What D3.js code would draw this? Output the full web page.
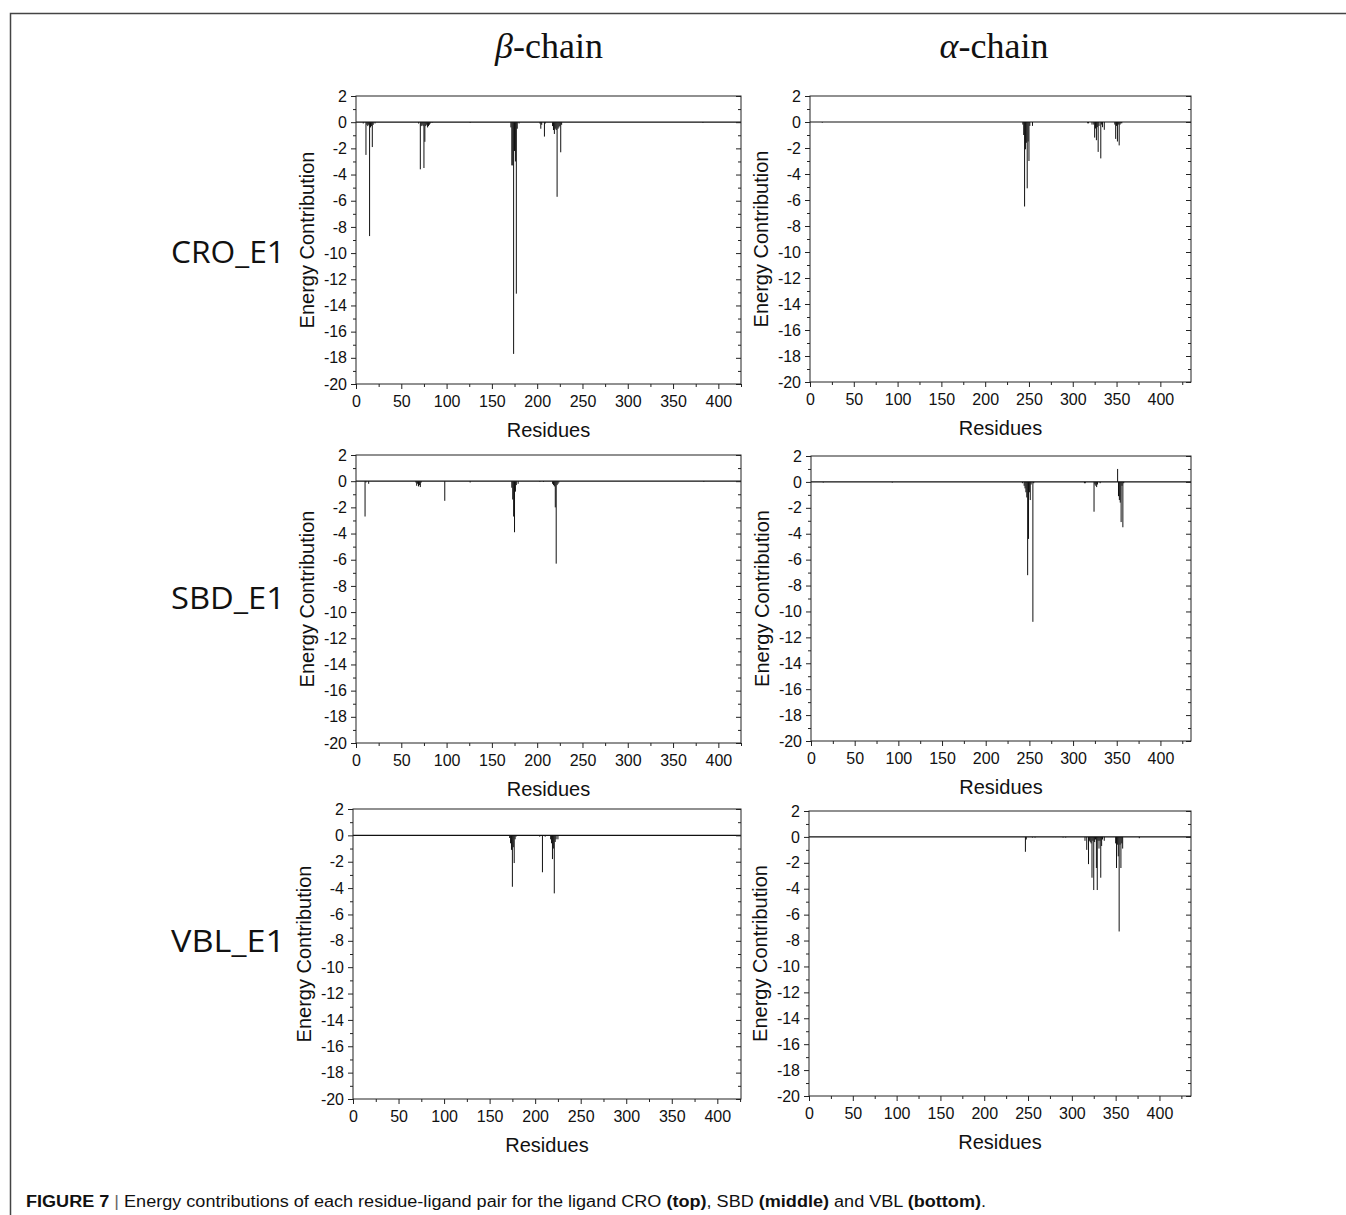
<!DOCTYPE html>
<html>
<head>
<meta charset="utf-8">
<script src="https://cdn.jsdelivr.net/npm/d3@7"></script>
<style>
  body { margin: 0; background: #fff; }
  svg text { font-family: "Liberation Sans", Arial, sans-serif; fill: #111; }
</style>
</head>
<body>
<div id="fig"></div>
<script>
// residue / energy pairs (only non-zero residues)
var croBeta = [[8,-0.1],[11,-2.5],[12,-0.2],[13,-0.3],[14,-0.2],[15,-8.7],[16,-0.4],[17,-0.3],[18,-1.9],[19,-0.2],[21,-0.1],
  [69,-0.1],[71,-3.6],[72,-0.3],[73,-0.2],[74,-0.3],[75,-3.5],[76,-1.5],[77,-0.3],[78,-0.2],[79,-0.4],[80,-0.3],[81,-0.2],[82,-0.1],
  [84,-0.05],[126,-0.05],
  [171,-0.4],[172,-3.3],[173,-3.3],[174,-17.7],[175,-2.2],[176,-3.0],[177,-13.1],[178,-0.5],[180,-0.1],
  [203,-0.1],[204,-0.5],[205,-0.2],[208,-1.1],[209,-0.1],
  [217,-0.3],[218,-0.6],[219,-0.9],[220,-0.5],[221,-0.6],[222,-5.7],[223,-0.5],[224,-0.4],[225,-0.3],[226,-2.3],[227,-0.2],
  [383,-0.05]];
var croAlpha = [[14,-0.05],
  [243,-0.2],[244,-1.0],[245,-6.5],[246,-2.1],[247,-1.6],[248,-5.1],[249,-1.5],[250,-3.0],[251,-0.3],[254,-0.3],
  [317,-0.1],[318,-0.1],[322,-0.2],[324,-0.2],[325,-1.2],[326,-0.5],[327,-1.4],[328,-0.4],[329,-2.3],[330,-0.3],[332,-2.8],[333,-0.2],[334,-0.4],[336,-0.6],
  [348,-0.2],[349,-1.3],[350,-0.3],[351,-1.5],[352,-0.2],[353,-1.8],[354,-0.2],[355,-0.1],[356,-0.1]];
var sbdBeta = [[10,-2.7],[11,-0.1],[14,-0.2],
  [66,-0.1],[67,-0.35],[68,-0.2],[69,-0.4],[70,-0.3],[71,-0.45],[72,-0.1],
  [98,-1.5],[126,-0.1],
  [172,-0.5],[173,-1.4],[174,-2.7],[175,-3.9],[176,-0.8],[177,-0.3],[179,-0.2],
  [203,-0.05],[207,-0.05],
  [217,-0.2],[218,-0.3],[219,-0.4],[220,-2.0],[221,-6.3],[222,-0.3],[223,-0.2],[224,-0.1],
  [384,-0.05]];
var sbdAlpha = [[14,-0.05],[93,-0.05],
  [242,-0.1],[244,-0.3],[245,-0.5],[246,-0.8],[247,-1.2],[248,-7.2],[249,-4.4],[250,-0.8],[251,-1.4],[252,-0.2],[254,-10.8],[255,-0.1],
  [313,-0.1],[314,-0.1],[324,-2.3],[325,-0.2],[326,-0.3],[327,-0.4],[328,-0.2],[331,-0.1],
  [351,1.0],[352,-1.1],[353,-1.4],[354,-1.6],[355,-3.1],[356,-0.3],[357,-3.5],[358,-0.1]];
var vblBeta = [[2,-0.05],
  [172,-0.2],[173,-0.6],[174,-1.1],[175,-3.9],[176,-0.9],[177,-2.1],[178,-0.3],[179,-0.1],
  [205,-0.1],[208,-2.8],[211,-0.1],
  [217,-0.3],[218,-0.6],[219,-1.8],[220,-1.0],[221,-4.4],[222,-0.5],[223,-0.3],[225,-0.3]];
var vblAlpha = [[247,-1.15],[248,-0.2],[255,-0.05],[258,-0.05],[290,-0.05],[293,-0.05],
  [315,-0.3],[317,-1.0],[319,-2.1],[320,-0.3],[321,-0.4],[322,-0.5],[323,-3.15],[324,-0.3],[325,-4.1],[326,-0.4],[327,-0.2],
  [328,-2.4],[329,-4.1],[330,-0.3],[331,-0.9],[332,-0.3],[333,-3.15],[334,-0.7],[335,-0.2],[337,-0.3],
  [350,-0.5],[351,-2.4],[352,-0.6],[353,-1.5],[354,-7.3],[355,-0.6],[356,-2.4],[357,-0.5],[358,-0.9],[377,-0.1]];

var rowLabels = ["CRO_E1", "SBD_E1", "VBL_E1"];
var yMajor = [-20,-18,-16,-14,-12,-10,-8,-6,-4,-2,0,2];
var yMinor = [-19,-17,-15,-13,-11,-9,-7,-5,-3,-1,1];
var xMajor = [0,50,100,150,200,250,300,350,400];
var xMinor = [25,75,125,175,225,275,325,375,425];

// panel boxes in page pixels
var panels = [
  {data: croBeta,  left: 356, right: 741,  top: 96,  bottom: 384,  xMax: 425},
  {data: croAlpha, left: 810, right: 1191, top: 96,  bottom: 382,  xMax: 435},
  {data: sbdBeta,  left: 356, right: 741,  top: 455, bottom: 743,  xMax: 425},
  {data: sbdAlpha, left: 811, right: 1191, top: 456, bottom: 741,  xMax: 435},
  {data: vblBeta,  left: 353, right: 741,  top: 809, bottom: 1099, xMax: 426},
  {data: vblAlpha, left: 809, right: 1191, top: 811, bottom: 1096, xMax: 436}
];

var svg = d3.select("#fig").append("svg")
  .attr("width", 1346)
  .attr("height", 1215);

svg.append("rect").attr("width", 1346).attr("height", 1215).attr("fill", "#fff");

// outer figure frame (top + left edges)
svg.append("path")
  .attr("d", "M10.5,1215 V13.5 H1346")
  .attr("fill", "none")
  .attr("stroke", "#444")
  .attr("stroke-width", 1.5);

// column titles
var titleBeta = svg.append("text")
  .attr("x", 549).attr("y", 58)
  .attr("text-anchor", "middle")
  .style("font-family", "'Liberation Serif', 'Times New Roman', serif")
  .style("font-size", "36px");
titleBeta.append("tspan").style("font-style", "italic").text("β");
titleBeta.append("tspan").text("-chain");

var titleAlpha = svg.append("text")
  .attr("x", 994).attr("y", 58)
  .attr("text-anchor", "middle")
  .style("font-family", "'Liberation Serif', 'Times New Roman', serif")
  .style("font-size", "36px");
titleAlpha.append("tspan").style("font-style", "italic").text("α");
titleAlpha.append("tspan").text("-chain");

// row labels
var rowY = [263, 609, 952];
rowLabels.forEach(function(lbl, i) {
  svg.append("text")
    .attr("x", 228).attr("y", rowY[i])
    .attr("text-anchor", "middle")
    .style("font-family", "'Open Sans', 'Noto Sans', sans-serif")
    .style("font-size", "31px")
    .attr("textLength", 114)
    .attr("lengthAdjust", "spacingAndGlyphs")
    .text(lbl);
});

panels.forEach(function(p) {
  var x = d3.scaleLinear().domain([0, p.xMax]).range([p.left, p.right]);
  var y = d3.scaleLinear().domain([-20, 2]).range([p.bottom, p.top]);
  var g = svg.append("g");

  // bars (drop lines from zero)
  g.selectAll("line.bar")
    .data(p.data)
    .enter().append("line")
      .attr("class", "bar")
      .attr("x1", function(d) { return x(d[0]); })
      .attr("x2", function(d) { return x(d[0]); })
      .attr("y1", y(0))
      .attr("y2", function(d) { return y(d[1]); })
      .attr("stroke", "#111")
      .attr("stroke-width", 1);

  // zero line
  g.append("line")
    .attr("x1", p.left).attr("x2", p.right)
    .attr("y1", y(0)).attr("y2", y(0))
    .attr("stroke", "#111")
    .attr("stroke-width", 1.2);

  // left axis
  g.append("g").attr("transform", "translate(" + p.left + ",0)")
    .call(d3.axisLeft(y).tickValues(yMajor).tickSize(5).tickPadding(4)
      .tickFormat(function(d) { return String(d); }));
  g.append("g").attr("transform", "translate(" + p.left + ",0)")
    .call(d3.axisLeft(y).tickValues(yMinor).tickSize(3).tickFormat(""));
  // right axis, ticks inward
  g.append("g").attr("transform", "translate(" + p.right + ",0)")
    .call(d3.axisRight(y).tickValues(yMajor).tickSize(-5).tickFormat(""));
  g.append("g").attr("transform", "translate(" + p.right + ",0)")
    .call(d3.axisRight(y).tickValues(yMinor).tickSize(-3).tickFormat(""));
  // bottom axis
  g.append("g").attr("transform", "translate(0," + p.bottom + ")")
    .call(d3.axisBottom(x).tickValues(xMajor).tickSize(5).tickPadding(7)
      .tickFormat(function(d) { return String(d); }));
  g.append("g").attr("transform", "translate(0," + p.bottom + ")")
    .call(d3.axisBottom(x).tickValues(xMinor.filter(function(v) { return v <= p.xMax; }))
      .tickSize(3).tickFormat(""));

  g.selectAll(".domain").remove();
  g.selectAll(".tick line").attr("stroke", "#222");
  g.selectAll(".tick text")
    .style("font-size", "16px")
    .style("font-family", "'Liberation Sans', Arial, sans-serif")
    .attr("fill", "#111");

  // plot frame
  g.append("rect")
    .attr("x", p.left).attr("y", p.top)
    .attr("width", p.right - p.left).attr("height", p.bottom - p.top)
    .attr("fill", "none")
    .attr("stroke", "#222")
    .attr("stroke-width", 1);

  // axis titles
  g.append("text")
    .attr("transform", "translate(" + (p.left - 42) + "," + ((p.top + p.bottom) / 2) + ") rotate(-90)")
    .attr("text-anchor", "middle")
    .style("font-size", "20px")
    .text("Energy Contribution");
  g.append("text")
    .attr("x", (p.left + p.right) / 2).attr("y", p.bottom + 53)
    .attr("text-anchor", "middle")
    .style("font-size", "20px")
    .text("Residues");
});

// caption
var cap = svg.append("text")
  .attr("x", 26).attr("y", 1207)
  .attr("textLength", 960)
  .attr("lengthAdjust", "spacingAndGlyphs")
  .style("font-size", "16px");
cap.append("tspan").style("font-weight", "bold").text("FIGURE 7");
cap.append("tspan").attr("fill", "#666").text(" | ");
cap.append("tspan").text("Energy contributions of each residue-ligand pair for the ligand CRO ");
cap.append("tspan").style("font-weight", "bold").text("(top)");
cap.append("tspan").text(", SBD ");
cap.append("tspan").style("font-weight", "bold").text("(middle)");
cap.append("tspan").text(" and VBL ");
cap.append("tspan").style("font-weight", "bold").text("(bottom)");
cap.append("tspan").text(".");
</script>
</body>
</html>
